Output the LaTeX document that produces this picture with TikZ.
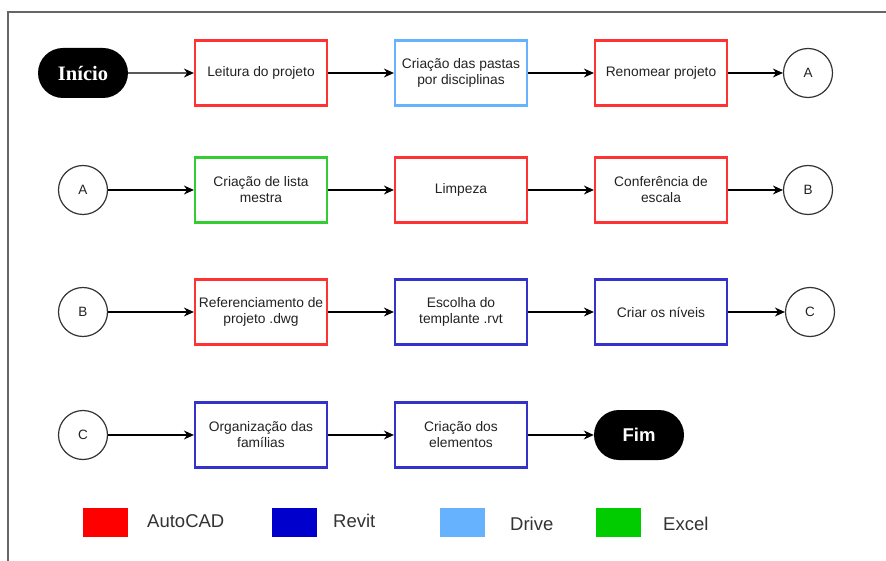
\documentclass[tikz,border=0pt]{standalone}
\usepackage{fontspec}
\setmainfont{Liberation Sans}
\newfontfamily\termserif{Liberation Serif}
\usetikzlibrary{arrows.meta,shapes.misc}
\definecolor{cadred}{HTML}{FF3333}
\definecolor{revitblue}{HTML}{3333CC}
\definecolor{driveblue}{HTML}{66B2FF}
\definecolor{excelgreen}{HTML}{33CC33}
\definecolor{txt}{HTML}{222222}
\tikzset{
  proc/.style={draw, line width=2.2pt, rectangle, minimum width=132pt, minimum height=65pt,
    align=center, font=\fontsize{13.8}{16}\selectfont, text=txt, inner sep=0pt},
  cad/.style={proc, draw=cadred},
  revit/.style={proc, draw=revitblue},
  drive/.style={proc, draw=driveblue},
  excel/.style={proc, draw=excelgreen},
  terminal/.style={rounded rectangle, fill=black, minimum width=90pt, minimum height=50pt,
    inner sep=0pt, text=white},
  link/.style={circle, draw=black!80, line width=1.2pt, minimum size=49pt, inner sep=0pt,
    font=\fontsize{13.5}{15}\selectfont, text=txt},
  flow/.style={draw=black, line width=1.1pt, -{Stealth[length=10pt,width=9pt]}},
  swatch/.style={rectangle, minimum width=45pt, minimum height=29pt, inner sep=0pt},
  legendtxt/.style={anchor=west, font=\fontsize{18.5}{20}\selectfont, text=black!80, inner sep=0pt}
}
\begin{document}
\begin{tikzpicture}[x=1pt, y=-1pt]
\useasboundingbox (0,0) rectangle (886,561);
% outer frame
\draw[black!60, line width=1.4pt] (886,12) -- (8,12) -- (8,561);

% row 1
\node[terminal, font=\termserif\bfseries\fontsize{20.5}{22}\selectfont] (inicio) at (83,73) {Início};
\node[cad]   (leitura)  at (261,73) {Leitura do projeto};
\node[drive] (pastas)   at (461,73) {Criação das pastas\\por disciplinas};
\node[cad]   (renomear) at (661,73) {Renomear projeto};
\node[link]  (a1)       at (808,73) {A};

% row 2
\node[link]  (a2)       at (83,190) {A};
\node[excel] (lista)    at (261,190) {Criação de lista\\mestra};
\node[cad]   (limpeza)  at (461,190) {Limpeza};
\node[cad]   (escala)   at (661,190) {Conferência de\\escala};
\node[link]  (b1)       at (808,190) {B};

% row 3
\node[link]  (b2)       at (83,312) {B};
\node[cad]   (ref)      at (261,312) {Referenciamento de\\projeto .dwg};
\node[revit] (templ)    at (461,312) {Escolha do\\templante .rvt};
\node[revit] (niveis)   at (661,312) {Criar os níveis};
\node[link]  (c1)       at (810,312) {C};

% row 4
\node[link]  (c2)       at (83,435) {C};
\node[revit] (familias) at (261,435) {Organização das\\famílias};
\node[revit] (elem)     at (461,435) {Criação dos\\elementos};
\node[terminal, font=\bfseries\fontsize{18.5}{20}\selectfont] (fim) at (639,435) {Fim};

% connectors
\draw[flow] (inicio) -- (leitura);
\draw[flow] (leitura) -- (pastas);
\draw[flow] (pastas) -- (renomear);
\draw[flow] (renomear) -- (a1);
\draw[flow] (a2) -- (lista);
\draw[flow] (lista) -- (limpeza);
\draw[flow] (limpeza) -- (escala);
\draw[flow] (escala) -- (b1);
\draw[flow] (b2) -- (ref);
\draw[flow] (ref) -- (templ);
\draw[flow] (templ) -- (niveis);
\draw[flow] (niveis) -- (c1);
\draw[flow] (c2) -- (familias);
\draw[flow] (familias) -- (elem);
\draw[flow] (elem) -- (fim);

% legend
\node[swatch, fill=red]            (sw1) at (105,522) {};
\node[legendtxt] (l1) at (147,521) {AutoCAD};
\node[swatch, fill={rgb,255:red,0;green,0;blue,204}] (sw2) at (294,522) {};
\node[legendtxt] (l2) at (333,521) {Revit};
\node[swatch, fill=driveblue]      (sw3) at (462,522) {};
\node[legendtxt] (l3) at (510,524) {Drive};
\node[swatch, fill={rgb,255:red,0;green,204;blue,0}] (sw4) at (618,522) {};
\node[legendtxt] (l4) at (663,524) {Excel};
\end{tikzpicture}
\end{document}
